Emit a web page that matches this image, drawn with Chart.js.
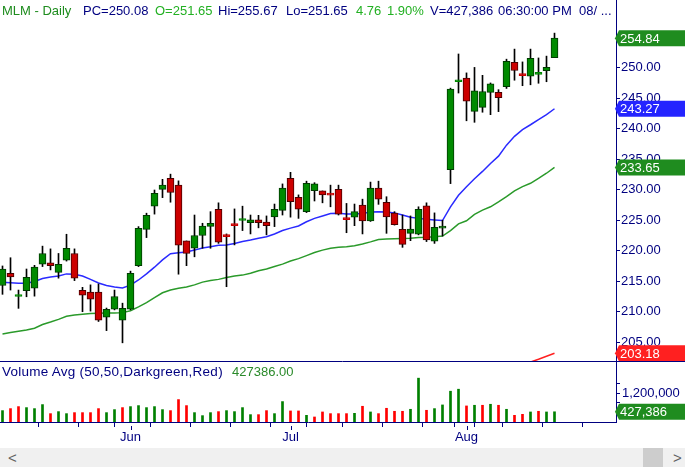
<!DOCTYPE html>
<html>
<head>
<meta charset="utf-8">
<script src="https://cdn.jsdelivr.net/npm/chart.js@4.4.1/dist/chart.umd.min.js"></script>
<style>
  body { margin: 0; background: #fff; }
  #wrap { position: relative; width: 685px; height: 467px; overflow: hidden; font-family: "Liberation Sans", Arial, sans-serif; }
  canvas { position: absolute; left: 0; }
  .txt { position: absolute; font-size: 13px; line-height: 15px; white-space: nowrap; color: #000080; }
  #vol-title { font-size: 13.5px; letter-spacing: 0.25px; }
  #scrollbar { position: absolute; left: 0; top: 448px; width: 685px; height: 19px; background: #f0f0f0; }
  #thumb { position: absolute; left: 643px; top: 0; width: 20px; height: 19px; background: #cdcdcd; }
  .arrow { position: absolute; top: 1px; font-size: 15px; line-height: 17px; color: #606060; }
</style>
</head>
<body>
<div id="wrap">
  <canvas id="price-chart" width="685" height="361" style="top:0"></canvas>
  <canvas id="volume-chart" width="685" height="87" style="top:361px"></canvas>
  <div id="header"></div>
  <div class="txt" id="vol-title" style="left:2px;top:364px">Volume Avg (50,50,Darkgreen,Red)</div>
  <div class="txt" id="vol-avg" style="left:232px;top:364px;color:#2a8a2a"></div>
  <div id="scrollbar">
    <span class="arrow" style="left:8px">&lt;</span>
    <div id="thumb"></div>
    <span class="arrow" style="left:673px">&gt;</span>
  </div>
</div>
<script>
const dates = [
  '05/09','05/10','05/13','05/14','05/15','05/16','05/17','05/20','05/21','05/22','05/23','05/24','05/28','05/29','05/30','05/31',
  '06/03','06/04','06/05','06/06','06/07','06/10','06/11','06/12','06/13','06/14','06/17','06/18','06/19','06/20','06/21','06/24','06/25','06/26','06/27','06/28',
  '07/01','07/02','07/03','07/05','07/08','07/09','07/10','07/11','07/12','07/15','07/16','07/17','07/18','07/19','07/22','07/23','07/24','07/25','07/26','07/29','07/30','07/31',
  '08/01','08/02','08/05','08/06','08/07','08/08','08/09','08/12','08/13','08/14','08/15','08/16'
];

const opens = [
  214.3, 216.3, 212.5, 213.45, 213.85, 217.8, 218.0, 216.45, 218.45, 219.55, 213.5, 213.2, 213.2, 209.1, 210.4, 208.6,
  210.4, 217.55, 223.5, 227.3, 230.05, 231.85, 230.75, 221.6, 220.4, 222.5, 224.0, 226.8, 222.4, 224.2, 224.95, 224.6, 225.05, 224.7, 225.55, 226.6,
  231.85, 228.75, 226.4, 229.85, 229.8, 229.15, 230.05, 225.2, 225.5, 227.5, 224.9, 230.25, 227.95, 226.15, 223.5, 222.85, 222.7, 227.35, 221.55, 223.7, 233.3, 247.7,
  248.3, 242.85, 243.5, 245.95, 245.95, 246.9, 250.9, 248.8, 248.6, 248.9, 249.5, 251.65
];
const highs = [
  217.5, 218.85, 213.55, 217.0, 217.6, 220.75, 220.3, 219.55, 222.7, 220.3, 214.0, 214.4, 214.55, 210.6, 213.55, 211.4,
  216.65, 223.95, 226.15, 229.95, 231.7, 232.55, 231.45, 221.6, 225.85, 224.5, 226.4, 227.85, 222.75, 226.85, 227.3, 225.85, 225.8, 225.7, 227.65, 230.95,
  232.85, 229.15, 231.4, 231.15, 229.8, 230.75, 230.75, 227.75, 227.65, 228.45, 231.25, 231.4, 228.85, 226.4, 225.85, 225.7, 227.2, 227.85, 226.2, 225.0, 246.65, 252.25,
  249.15, 250.05, 248.75, 247.5, 246.4, 251.4, 253.05, 250.95, 253.05, 251.6, 251.9, 255.67
];
const lows = [
  212.85, 213.55, 210.55, 212.45, 212.55, 217.4, 216.85, 215.5, 218.3, 215.1, 210.0, 210.1, 208.4, 206.9, 210.3, 204.9,
  210.3, 217.4, 222.15, 226.0, 228.7, 227.95, 216.15, 217.55, 219.0, 220.4, 220.4, 221.2, 214.1, 220.95, 223.3, 222.75, 223.75, 222.6, 223.95, 225.85,
  225.5, 225.3, 226.25, 228.15, 227.85, 227.2, 225.85, 222.95, 224.1, 222.75, 224.8, 227.6, 222.85, 224.2, 220.55, 221.65, 222.6, 221.5, 221.2, 222.4, 231.0, 245.85,
  241.3, 241.05, 242.7, 242.3, 242.8, 246.6, 247.95, 247.05, 247.2, 247.45, 247.7, 251.65
];
const closes = [
  217.0, 215.7, 212.6, 215.65, 217.3, 219.55, 217.55, 217.75, 220.4, 215.5, 212.7, 212.05, 208.6, 210.4, 212.5, 210.55,
  216.3, 223.65, 225.8, 229.4, 230.75, 229.55, 220.9, 219.55, 222.5, 224.05, 224.5, 221.4, 222.3, 224.1, 225.0, 225.05, 224.6, 224.1, 226.8, 230.25,
  228.05, 226.8, 231.05, 230.95, 229.15, 229.1, 226.0, 225.1, 226.4, 224.9, 230.25, 228.45, 225.55, 224.25, 221.05, 223.55, 226.8, 221.75, 223.85, 224.0, 246.5, 247.8,
  244.5, 246.2, 246.1, 247.35, 245.1, 251.05, 249.55, 248.7, 251.55, 249.0, 250.08, 254.84
];
const volumes = [
  476000, 560000, 644000, 602000, 560000, 728000, 350000, 434000, 350000, 392000, 392000, 392000, 560000, 392000, 518000, 602000,
  644000, 686000, 602000, 644000, 518000, 476000, 938000, 686000, 392000, 266000, 392000, 434000, 476000, 434000, 602000, 308000, 308000, 476000, 350000, 854000,
  462000, 462000, 280000, 210000, 420000, 350000, 350000, 350000, 364000, 658000, 420000, 350000, 574000, 448000, 448000, 532000, 1834000, 490000, 560000, 714000, 1288000, 1372000,
  672000, 700000, 700000, 742000, 700000, 532000, 280000, 322000, 420000, 448000, 420000, 427386
];

const sma20 = [
  214.82, 214.75, 214.65, 214.65, 214.95, 215.45, 215.7, 215.85, 216.2, 216.15, 215.85, 215.3, 214.7, 214.3, 214.05, 213.9,
  214.35, 215.2, 216.2, 217.3, 218.5, 219.5, 219.65, 219.8, 220.1, 220.45, 220.65, 220.9, 220.95, 221.2, 221.5, 221.75, 222.05, 222.3, 222.75, 223.3,
  223.7, 224.05, 224.75, 225.3, 225.7, 226.1, 226.15, 226.0, 226.0, 226.1, 226.35, 226.4, 226.35, 226.2, 225.85, 225.5, 225.3, 225.15, 225.05, 224.95, 227.2, 229.1,
  230.5, 231.8, 233.0, 234.3, 235.5, 237.3, 238.75, 239.85, 240.65, 241.5, 242.3, 243.27
];
const sma50 = [
  206.35, 206.6, 206.8, 207.0, 207.3, 207.9, 208.3, 208.75, 209.25, 209.45, 209.6, 209.7, 209.75, 209.8, 209.8, 209.85,
  210.15, 210.8, 211.5, 212.3, 213.1, 213.55, 213.85, 214.05, 214.4, 214.85, 215.1, 215.3, 215.6, 215.85, 216.0, 216.3, 216.7, 217.0, 217.4, 217.8,
  218.3, 218.7, 219.2, 219.7, 220.1, 220.4, 220.55, 220.65, 220.8, 221.1, 221.45, 221.85, 221.9, 221.95, 222.0, 222.05, 222.15, 222.2, 222.3, 222.4, 223.3, 224.4,
  224.9, 225.95, 226.65, 227.2, 228.0, 228.85, 229.8, 230.5, 231.05, 231.85, 232.7, 233.65
];
// only the tail of the 200 day average reaches into the visible range
const sma200Start = 65;
const sma200 = [201.3, 201.75, 202.2, 202.7, 203.18];

const priceTicks = [205, 210, 215, 220, 225, 230, 235, 240, 245, 250, 255];
const volumeTicks = [800000, 1200000, 1600000];
const volumeLabelTicks = [1200000];
const weekTickIdx = [2, 7, 12, 16, 21, 26, 31, 36, 40, 45, 50, 55, 60, 65, 70, 75];
const monthNames = ['Jan', 'Feb', 'Mar', 'Apr', 'May', 'Jun', 'Jul', 'Aug', 'Sep', 'Oct', 'Nov', 'Dec'];

const NAVY = '#000080';
const FONT = '"Liberation Sans", Arial, sans-serif';
const UP = '#008a00', UP_EDGE = '#003a00';
const DOWN = '#cc0000', DOWN_EDGE = '#4a0000';
const VOL_UP = '#008000', VOL_DOWN = '#ff0000';
const FLAG_GREEN = '#1f8c1f', FLAG_BLUE = '#2424ff', FLAG_RED = '#ff2020';
const X_MIN = -0.3125, X_MAX = 76.6875;
const AXIS_W = 69;

const last = closes.length - 1;

// month start positions come from the dates
const monthTicks = [];
dates.forEach((d, i) => {
  if (i > 0 && d.slice(0, 2) !== dates[i - 1].slice(0, 2)) {
    monthTicks.push({ idx: i, label: monthNames[Number(d.slice(0, 2)) - 1] });
  }
});

function renderHeader() {
  const change = closes[last] - closes[last - 1];
  const pct = change / closes[last - 1] * 100;
  const items = [
    { text: 'MLM - Daily', x: 2, color: '#1e8c1e' },
    { text: 'PC=' + closes[last - 1].toFixed(2), x: 83 },
    { text: 'O=' + opens[last].toFixed(2), x: 155, color: '#22b022' },
    { text: 'Hi=' + highs[last].toFixed(2), x: 218 },
    { text: 'Lo=' + lows[last].toFixed(2), x: 286 },
    { text: change.toFixed(2), x: 356, color: '#22b022' },
    { text: pct.toFixed(2) + '%', x: 387, color: '#22b022' },
    { text: 'V=' + volumes[last].toLocaleString('en-US'), x: 430 },
    { text: '06:30:00 PM', x: 498 },
    { text: '08/ ...', x: 579 }
  ];
  const header = document.getElementById('header');
  items.forEach(item => {
    const el = document.createElement('div');
    el.className = 'txt';
    el.style.left = item.x + 'px';
    el.style.top = '3px';
    if (item.color) el.style.color = item.color;
    el.textContent = item.text;
    header.appendChild(el);
  });
  document.getElementById('vol-avg').textContent = volumes[last].toFixed(2);
}

function drawFlag(ctx, x0, yc, text, color) {
  ctx.save();
  ctx.fillStyle = color;
  ctx.beginPath();
  ctx.moveTo(x0 - 1, yc);
  ctx.lineTo(x0 + 3, yc - 8);
  ctx.lineTo(685, yc - 8);
  ctx.lineTo(685, yc + 8);
  ctx.lineTo(x0 + 3, yc + 8);
  ctx.closePath();
  ctx.fill();
  ctx.fillStyle = '#fff';
  ctx.font = '13px ' + FONT;
  ctx.textBaseline = 'middle';
  ctx.fillText(text, x0 + 4, yc + 1);
  ctx.restore();
}

const flagPlugin = {
  id: 'flags',
  afterDraw(chart, args, opts) {
    const scale = chart.scales.y;
    opts.items.forEach(f => {
      drawFlag(chart.ctx, chart.chartArea.right, scale.getPixelForValue(f.value), f.text, f.color);
    });
  }
};

const panelLinesPlugin = {
  id: 'panelLines',
  afterDraw(chart) {
    const { ctx, chartArea } = chart;
    const x = chart.scales.x;
    ctx.save();
    ctx.strokeStyle = NAVY;
    ctx.lineWidth = 1;
    ctx.beginPath();
    ctx.moveTo(0, 0.5);
    ctx.lineTo(685, 0.5);
    monthTicks.forEach(m => {
      const px = Math.round(x.getPixelForValue(m.idx)) + 0.5;
      ctx.moveTo(px, chartArea.bottom + 4);
      ctx.lineTo(px, chartArea.bottom + 8);
    });
    ctx.stroke();
    ctx.restore();
  }
};

function axisStyle() {
  return {
    border: { display: true, color: NAVY, width: 1 },
    grid: { drawOnChartArea: false, drawTicks: true, tickLength: 4, color: NAVY },
  };
}

function renderPriceChart() {
  const ctx = document.getElementById('price-chart');
  new Chart(ctx, {
    type: 'bar',
    data: {
      datasets: [
        {
          type: 'line',
          data: sma20.map((v, i) => ({ x: i, y: v })),
          borderColor: '#2a2aff', borderWidth: 1.5, pointRadius: 0, tension: 0, order: 3
        },
        {
          type: 'line',
          data: sma50.map((v, i) => ({ x: i, y: v })),
          borderColor: '#2a9a2a', borderWidth: 1.5, pointRadius: 0, tension: 0, order: 3
        },
        {
          type: 'line',
          data: sma200.map((v, k) => ({ x: sma200Start + k, y: v })),
          borderColor: '#ff2020', borderWidth: 1.5, pointRadius: 0, tension: 0, order: 3
        },
        {
          type: 'bar',
          data: dates.map((d, i) => ({ x: i, y: [lows[i], highs[i]] })),
          backgroundColor: '#000', barThickness: 1, grouped: false, order: 2
        },
        {
          type: 'bar',
          data: dates.map((d, i) => ({ x: i, y: [opens[i], closes[i]] })),
          backgroundColor: c => closes[c.dataIndex] >= opens[c.dataIndex] ? UP : DOWN,
          borderColor: c => {
            const i = c.dataIndex;
            const up = closes[i] >= opens[i];
            if (Math.abs(closes[i] - opens[i]) < 0.3) return up ? UP : DOWN;
            return up ? UP_EDGE : DOWN_EDGE;
          },
          borderWidth: 1, borderSkipped: false, barThickness: 7, minBarLength: 2,
          grouped: false, order: 1
        }
      ]
    },
    options: {
      responsive: false,
      animation: false,
      events: [],
      layout: { padding: 0 },
      plugins: {
        legend: { display: false },
        tooltip: { enabled: false },
        flags: {
          items: [
            { value: closes[last], text: closes[last].toFixed(2), color: FLAG_GREEN },
            { value: sma20[last], text: sma20[last].toFixed(2), color: FLAG_BLUE },
            { value: sma50[last], text: sma50[last].toFixed(2), color: FLAG_GREEN },
            { value: sma200[sma200.length - 1], text: sma200[sma200.length - 1].toFixed(2), color: FLAG_RED }
          ]
        }
      },
      scales: {
        x: { type: 'linear', min: X_MIN, max: X_MAX, offset: false, display: false },
        y: {
          position: 'right',
          min: 201.92, max: 261.1,
          afterBuildTicks: s => { s.ticks = priceTicks.map(v => ({ value: v })); },
          afterFit: s => { s.width = AXIS_W; s.paddingTop = 0; s.paddingBottom = 0; },
          ...axisStyle(),
          ticks: { color: NAVY, padding: 1, font: { family: FONT, size: 13 }, callback: v => v.toFixed(2) }
        }
      }
    },
    plugins: [flagPlugin]
  });
}

function renderVolumeChart() {
  const ctx = document.getElementById('volume-chart');
  const monthLabelAt = {};
  monthTicks.forEach(m => { monthLabelAt[m.idx] = m.label; });
  const xTicks = Array.from(new Set(weekTickIdx.concat(monthTicks.map(m => m.idx)))).sort((a, b) => a - b);

  new Chart(ctx, {
    type: 'bar',
    data: {
      datasets: [{
        data: volumes.map((v, i) => ({ x: i, y: v })),
        backgroundColor: c => {
          const i = c.dataIndex;
          return i === 0 || closes[i] >= closes[i - 1] ? VOL_UP : VOL_DOWN;
        },
        barThickness: 2
      }]
    },
    options: {
      responsive: false,
      animation: false,
      events: [],
      layout: { padding: { top: 1 } },
      plugins: {
        legend: { display: false },
        tooltip: { enabled: false },
        flags: {
          items: [{ value: volumes[last], text: volumes[last].toLocaleString('en-US'), color: FLAG_GREEN }]
        }
      },
      scales: {
        x: {
          type: 'linear', min: X_MIN, max: X_MAX, offset: false,
          afterBuildTicks: s => { s.ticks = xTicks.map(v => ({ value: v })); },
          afterFit: s => { s.height = 26; s.paddingLeft = 0; s.paddingRight = 0; },
          border: { display: true, color: NAVY, width: 1 },
          grid: { drawOnChartArea: false, drawTicks: true, tickLength: 5, color: NAVY },
          ticks: {
            color: NAVY, padding: 3, autoSkip: false, maxRotation: 0,
            font: { family: FONT, size: 13 },
            callback: v => monthLabelAt[v] || ''
          }
        },
        y: {
          position: 'right',
          min: 0, max: 2510000,
          afterBuildTicks: s => { s.ticks = volumeTicks.map(v => ({ value: v })); },
          afterFit: s => { s.width = AXIS_W; s.paddingTop = 0; s.paddingBottom = 0; },
          ...axisStyle(),
          ticks: {
            color: NAVY, padding: 2, font: { family: FONT, size: 13 },
            callback: v => volumeLabelTicks.includes(v) ? v.toLocaleString('en-US') : ''
          }
        }
      }
    },
    plugins: [flagPlugin, panelLinesPlugin]
  });
}

renderHeader();
renderPriceChart();
renderVolumeChart();
</script>
</body>
</html>
